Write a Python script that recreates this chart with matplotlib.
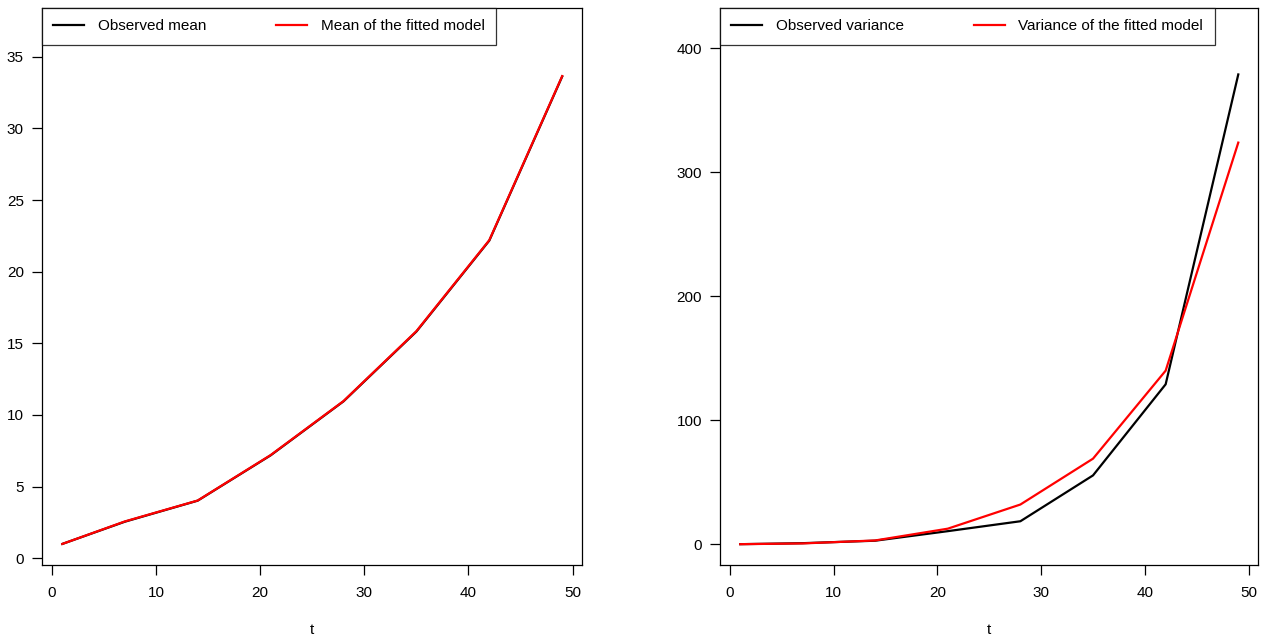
import numpy as np
import matplotlib
matplotlib.use('Agg')
import matplotlib.pyplot as plt

plt.rcParams['font.family'] = ['Liberation Sans', 'DejaVu Sans']
plt.rcParams['font.size'] = 11

# sampling times
t = [1, 7, 14, 21, 28, 35, 42, 49]

# first moment
mean_obs = [1.0, 2.55, 4.02, 7.18, 10.95, 15.82, 22.17, 33.62]
mean_fit = [1.0, 2.57, 4.03, 7.2, 10.97, 15.85, 22.2, 33.65]

# second moment
var_obs = [0.0, 0.8, 2.8, 10.5, 18.5, 55.5, 129.0, 379.0]
var_fit = [0.0, 0.6, 3.0, 12.5, 32.0, 69.0, 140.0, 324.0]

fig = plt.figure(figsize=(12.7, 6.4), dpi=100)
W, H = 1270, 640


def panel(rect, y1, y2, lab1, lab2, ylim, yticks):
    x0, y0, x1, ybot = rect
    ax = fig.add_axes([x0 / W, (H - ybot) / H, (x1 - x0) / W, (ybot - y0) / H])
    ax.plot(t, y1, color='black', lw=1.6, label=lab1)
    ax.plot(t, y2, color='red', lw=1.6, label=lab2)
    ax.set_xlim(-0.95, 50.9)
    ax.set_ylim(*ylim)
    ax.set_xticks([0, 10, 20, 30, 40, 50])
    ax.set_yticks(yticks)
    ax.tick_params(direction='out', length=7, width=0.9, labelsize=11)
    ax.tick_params(axis='x', pad=8)
    ax.tick_params(axis='y', pad=6)
    for s in ax.spines.values():
        s.set_linewidth(0.9)
    ax.set_xlabel('t', labelpad=17, fontsize=11)
    leg = ax.legend(loc='upper left', ncol=2, frameon=True, fancybox=False,
                    borderaxespad=0, handlelength=2.0, handletextpad=0.9,
                    columnspacing=4.6, borderpad=0.75, fontsize=11)
    leg.get_frame().set_edgecolor('black')
    leg.get_frame().set_linewidth(0.9)
    return ax


panel((42, 8, 582, 565), mean_obs, mean_fit, 'Observed mean',
      'Mean of the fitted model', (-0.47, 38.4), [0, 5, 10, 15, 20, 25, 30, 35])
panel((720, 8, 1258, 565), var_obs, var_fit, 'Observed variance',
      'Variance of the fitted model', (-16.8, 432.6), [0, 100, 200, 300, 400])

fig.savefig('out.png', dpi=100)
